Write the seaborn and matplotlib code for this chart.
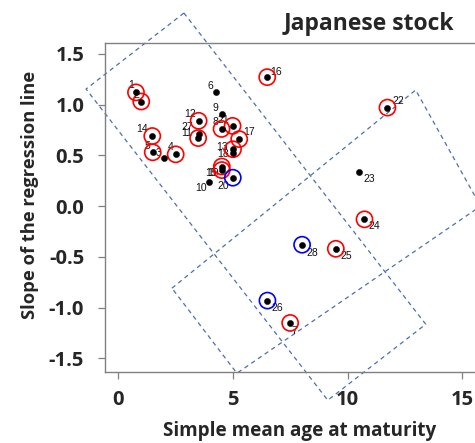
import numpy as np
import pandas as pd
import matplotlib
matplotlib.use("Agg")
import matplotlib.pyplot as plt
import seaborn as sns

# ---- data ----
ids = [str(i) for i in range(1, 29)]
age = [0.77, 1.00, 1.99, 2.50, 1.50, 4.24, 7.49, 4.50, 4.51, 3.96,
       3.48, 3.50, 5.00, 1.48, 4.51, 6.49, 5.27, 5.00, 4.51, 4.99,
       4.98, 11.73, 10.48, 10.73, 9.48, 6.50, 3.50, 8.01]
slope = [1.12, 1.03, 0.47, 0.51, 0.53, 1.12, -1.15, 0.76, 0.91, 0.24,
         0.67, 0.84, 0.56, 0.69, 0.355, 1.27, 0.66, 0.52, 0.39, 0.28,
         0.79, 0.97, 0.34, -0.13, -0.42, -0.93, 0.71, -0.38]
ring = ["red", "red", "none", "red", "red", "none", "red", "red", "none", "none",
        "red", "red", "red", "red", "red", "red", "red", "none", "red", "blue",
        "red", "red", "none", "red", "red", "blue", "none", "blue"]

rect_a_x = [2.86, -1.406, 9.13, 13.40, 2.86]
rect_a_y = [1.901, 1.153, -1.911, -1.163, 1.901]
rect_b_x = [2.338, 12.96, 15.79, 5.168, 2.338]
rect_b_y = [-0.808, 1.143, 0.0, -1.645, -0.808]

x_ticks = [0, 5, 10, 15]
y_ticks = [-1.5, -1.0, -0.5, 0.0, 0.5, 1.0, 1.5]
y_tick_labels = ["-1.5", "-1.0", "-0.5", "0.0", "0.5", "1.0", "1.5"]

# label offsets in pixels (dx right, dy up)
label_off = {
    "1": (-5, 7), "2": (-5, 7), "3": (-5, 5), "4": (-5, 7), "5": (-5, 6),
    "6": (-5, 6), "7": (4, -8), "8": (-6, 7), "9": (-6, 6), "10": (-8, -6),
    "11": (-11, 5), "12": (-9, 7), "13": (-11, 2), "14": (-10, 7), "15": (-11, -3),
    "16": (9, 5), "17": (10, 7), "18": (-10, -1), "19": (-9, -6), "20": (-10, -8),
    "21": (-9, 6), "22": (11, 7), "23": (10, -7), "24": (10, -7), "25": (10, -7),
    "26": (10, -7), "27": (-11, 7), "28": (10, -8),
}

df = pd.DataFrame({"id": ids, "age": age, "slope": slope, "ring": ring})

sns.set_style("white")
plt.rcParams["font.family"] = ["Open Sans", "DejaVu Sans"]

fig = plt.figure(figsize=(4.75, 4.43), dpi=100)
ax = fig.add_axes([105 / 475, 71 / 443, 385 / 475, 329 / 443])

dash = (0, (3.5, 3))
bcol = "#4f6fa6"
ax.plot(rect_a_x, rect_a_y, color=bcol, lw=0.9, ls=dash, clip_on=False, zorder=1)
ax.plot(rect_b_x, rect_b_y, color=bcol, lw=0.9, ls=dash, clip_on=False, zorder=1)

for col in ["red", "blue"]:
    sub = df[df["ring"] == col]
    sns.scatterplot(data=sub, x="age", y="slope", ax=ax, marker="o", s=135,
                    color=col, facecolor="none", edgecolor=col, linewidth=1.2,
                    zorder=3, legend=False)

sns.scatterplot(data=df, x="age", y="slope", ax=ax, color="black", s=20,
                edgecolor="black", linewidth=0.3, zorder=4, legend=False)

for i, r in df.iterrows():
    dx, dy = label_off[r["id"]]
    ax.annotate(r["id"], (r["age"], r["slope"]), xytext=(dx * 0.72, dy * 0.72),
                textcoords="offset points", ha="center", va="center",
                fontsize=7.5, family=["Liberation Sans", "DejaVu Sans"],
                color="#111111", zorder=2)

ax.set_xlim(-0.58, 16.2)
ax.set_ylim(-1.633, 1.606)
ax.set_xticks(x_ticks)
ax.set_xticklabels([str(t) for t in x_ticks])
ax.set_yticks(y_ticks)
ax.set_yticklabels(y_tick_labels)

for s in ax.spines.values():
    s.set_color("#808080")
    s.set_linewidth(1.0)
    s.set_visible(True)

ax.tick_params(axis="both", which="both", direction="out", length=5, width=0.9,
               color="#808080", labelsize=14.5, left=True, bottom=True)
ax.tick_params(axis="y", pad=10)
ax.tick_params(axis="x", pad=8)
for lab in ax.get_xticklabels() + ax.get_yticklabels():
    lab.set_fontweight("bold")

ax.set_xlabel("Simple mean age at maturity", fontsize=13.6, fontweight="bold")
ax.set_ylabel("Slope of the regression line", fontsize=13.2, fontweight="bold")
ax.xaxis.set_label_coords((300 - 105) / 385, -(421 - 372) / 329)
ax.yaxis.set_label_coords(-(105 - 39) / 385, (372 - 195) / 329)

fig.text(369 / 475, 1 - 24 / 443, "Japanese stock", fontsize=16.5, fontweight="bold",
         ha="center", va="center")

fig.savefig("out.png", dpi=100)
